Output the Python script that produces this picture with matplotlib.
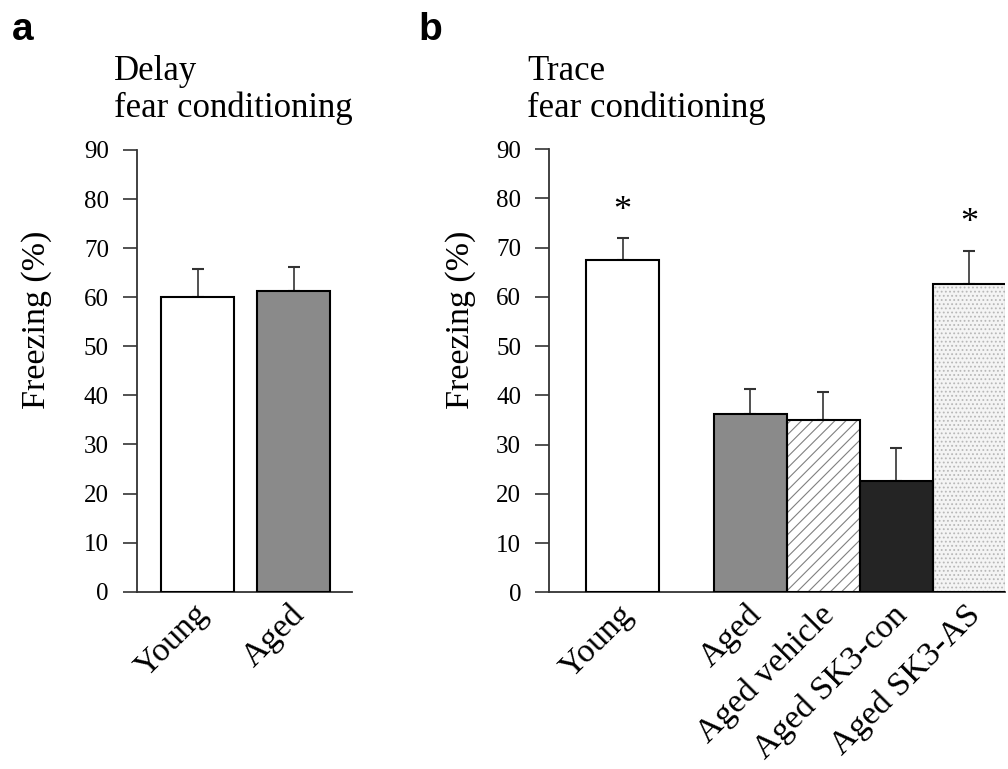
import matplotlib
matplotlib.use("Agg")
import matplotlib.pyplot as plt
import matplotlib.transforms as mtransforms
import numpy as np

# ---- data ----
delay_labels = ["Young", "Aged"]
delay_means = [60.1, 61.3]
delay_errs = [5.6, 4.9]

trace_labels = ["Young", "Aged", "Aged vehicle", "Aged SK3-con", "Aged SK3-AS"]
trace_means = [67.5, 36.3, 35.0, 22.5, 62.5]
trace_errs = [4.4, 5.0, 5.6, 6.9, 6.9]
trace_sig = [True, False, False, False, True]

yticks = [0, 10, 20, 30, 40, 50, 60, 70, 80, 90]

# ---- style ----
plt.rcParams['font.family'] = ['Liberation Serif', 'DejaVu Serif']
plt.rcParams['hatch.linewidth'] = 0.8
SERIF = 'Liberation Serif'
SANS = 'Liberation Sans'
TICK_FS = 18
CAT_FS = 24.5
YLAB_FS = 24.5
TITLE_FS = 25

delay_pos = [0.0, 1.32]
trace_pos = [0.0, 1.75, 2.75, 3.75, 4.75]

styles = {
    "Young": dict(face="white", hatch=None, hcolor=None),
    "Aged": dict(face="#8a8a8a", hatch=None, hcolor=None),
    "Aged vehicle": dict(face="white", hatch="///", hcolor="#808080"),
    "Aged SK3-con": dict(face="#242424", hatch=None, hcolor=None),
    "Aged SK3-AS": dict(face="#f4f4f4", hatch="....", hcolor="#b8b8b8"),
}

fig = plt.figure(figsize=(10.08, 7.69), dpi=100)
W, H = 1008, 769

axa = fig.add_axes([136.7 / W, (H - 591.7) / H, 215.3 / W, 441.7 / H])
axb = fig.add_axes([549 / W, (H - 592.3) / H, 456 / W, 443.25 / H])


def draw(ax, labels, means, errs, pos, xlim):
    for lab, m, p in zip(labels, means, pos):
        st = styles[lab]
        if st["hatch"]:
            ax.bar(p, m, width=1.0, color=st["face"], hatch=st["hatch"],
                   edgecolor=st["hcolor"], linewidth=0, zorder=2)
            ax.bar(p, m, width=1.0, fill=False, edgecolor="black",
                   linewidth=1.5, zorder=3)
        else:
            ax.bar(p, m, width=1.0, color=st["face"], edgecolor="black",
                   linewidth=1.5, zorder=3)
    ax.errorbar(pos, means, yerr=[np.zeros(len(errs)), errs], fmt='none',
                ecolor='#333333', elinewidth=1.2, capsize=4.5, capthick=1.5,
                zorder=1)
    ax.set_xlim(*xlim)
    ax.set_ylim(0, 90)
    ax.set_yticks(yticks)
    ax.set_yticklabels([str(t) for t in yticks], fontsize=TICK_FS, family=SERIF)
    ax.set_xticks(pos)
    ax.set_xticklabels([])
    # category labels, rotated, anchored under each bar
    trans = ax.get_xaxis_transform() + mtransforms.ScaledTranslation(
        6 / 100, -18 / 100, fig.dpi_scale_trans)
    for lab, p in zip(labels, pos):
        ax.text(p, 0, lab, transform=trans, rotation=45, ha='right',
                va='center', rotation_mode='anchor', fontsize=CAT_FS,
                family=SERIF, clip_on=False)
    ax.tick_params(axis='x', length=0)
    ax.tick_params(axis='y', length=10, width=1.2, direction='out', pad=10,
                   color='#333333')
    for s in ['top', 'right']:
        ax.spines[s].set_visible(False)
    for s in ['left', 'bottom']:
        ax.spines[s].set_linewidth(1.3)
        ax.spines[s].set_color('#333333')


draw(axa, delay_labels, delay_means, delay_errs, delay_pos, (-0.833, 2.116))
draw(axb, trace_labels, trace_means, trace_errs, trace_pos, (-1.01, 5.237))

for p, m, e, sig in zip(trace_pos, trace_means, trace_errs, trace_sig):
    if sig:
        axb.text(p, m + e + 5.5, "*", ha='center', va='center', fontsize=26,
                 family=SERIF)

# y labels
fig.text(37 / W, 1 - 320 / H, "Freezing (%)", rotation=90, ha='center',
         va='center', fontsize=YLAB_FS, family=SERIF)
fig.text(461 / W, 1 - 320 / H, "Freezing (%)", rotation=90, ha='center',
         va='center', fontsize=YLAB_FS, family=SERIF)

# titles
fig.text(114 / W, 1 - 80 / H, "Delay", ha='left', va='baseline',
         fontsize=TITLE_FS, family=SERIF)
fig.text(114 / W, 1 - 117 / H, "fear conditioning", ha='left', va='baseline',
         fontsize=TITLE_FS, family=SERIF)
fig.text(527 / W, 1 - 80 / H, "Trace", ha='left', va='baseline',
         fontsize=TITLE_FS, family=SERIF)
fig.text(527 / W, 1 - 117 / H, "fear conditioning", ha='left', va='baseline',
         fontsize=TITLE_FS, family=SERIF)

# panel letters
fig.text(12 / W, 1 - 40 / H, "a", ha='left', va='baseline', fontsize=28,
         fontweight='bold', family=SANS)
fig.text(418 / W, 1 - 40 / H, "b", ha='left', va='baseline', fontsize=28,
         fontweight='bold', family=SANS)

fig.savefig("out.png", dpi=100)
